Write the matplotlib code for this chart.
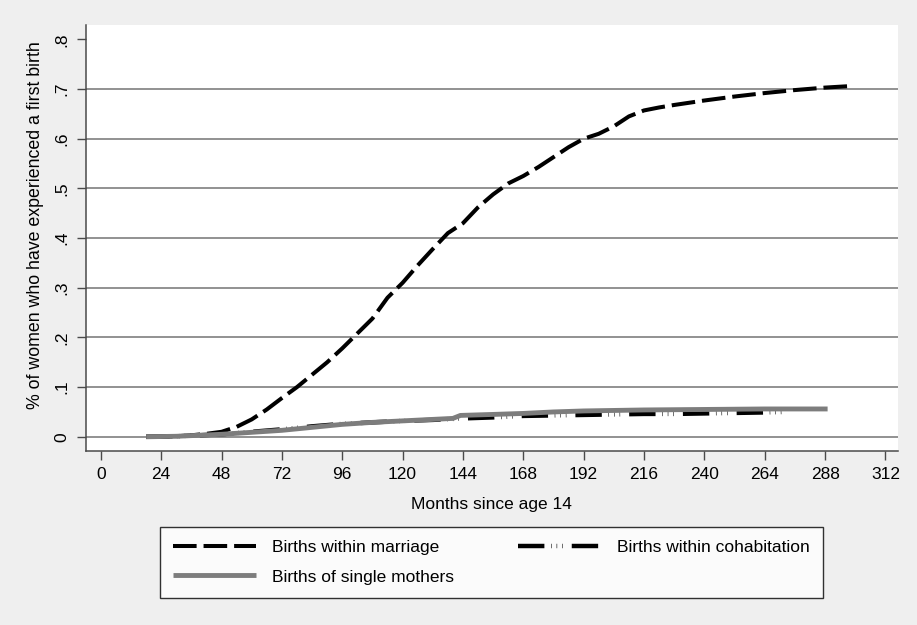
import matplotlib
matplotlib.use("Agg")
import matplotlib.pyplot as plt

#%% data
# months since age 14 and share of women with a first birth
marriage_months = [18, 24, 30, 36, 42, 48, 54, 60, 66, 72, 78, 84, 90, 96, 102, 108,
                   114, 120, 126, 132, 138, 144, 150, 156, 162, 168, 174, 180, 186,
                   192, 198, 204, 210, 216, 222, 228, 240, 252, 264, 276, 288, 298]
marriage_share = [0.0, 0.0, 0.001, 0.003, 0.006, 0.010, 0.020, 0.035, 0.055, 0.078,
                  0.100, 0.125, 0.150, 0.178, 0.208, 0.238, 0.280, 0.310, 0.345,
                  0.378, 0.410, 0.430, 0.462, 0.488, 0.510, 0.525, 0.543, 0.563,
                  0.583, 0.600, 0.610, 0.625, 0.645, 0.657, 0.663, 0.668, 0.677,
                  0.685, 0.692, 0.698, 0.703, 0.706]

cohab_months = [18, 30, 48, 60, 72, 84, 96, 108, 120, 132, 144, 156, 168, 180, 192,
                204, 216, 228, 240, 252, 264, 272]
cohab_share = [0.0, 0.001, 0.005, 0.010, 0.015, 0.021, 0.026, 0.029, 0.032, 0.034,
               0.037, 0.039, 0.042, 0.043, 0.044, 0.045, 0.046, 0.046, 0.047, 0.048,
               0.049, 0.050]

single_months = [18, 30, 48, 60, 72, 84, 96, 108, 120, 132, 140, 143, 156, 168, 180,
                 192, 204, 216, 240, 264, 289]
single_share = [0.0, 0.001, 0.005, 0.009, 0.013, 0.019, 0.025, 0.029, 0.032, 0.035,
                0.037, 0.043, 0.045, 0.047, 0.050, 0.052, 0.053, 0.054, 0.055, 0.056,
                0.056]

x_ticks = list(range(0, 313, 24))
y_ticks = [0, 0.1, 0.2, 0.3, 0.4, 0.5, 0.6, 0.7, 0.8]
y_tick_labels = ['0', '.1', '.2', '.3', '.4', '.5', '.6', '.7', '.8']

#%% plot
plt.rcParams['font.family'] = ['Liberation Sans', 'DejaVu Sans']
plt.rcParams['lines.scale_dashes'] = False

bg = '#efefef'
axis_col = '#4a4a4a'

fig = plt.figure(figsize=(9.17, 6.25), dpi=100, facecolor=bg)
ax = fig.add_axes([0.0935, 0.2789, 0.8858, 0.6811])
ax.set_facecolor('white')

l_mar, = ax.plot(marriage_months, marriage_share, color='black', lw=2.9,
                 dashes=(17, 5), dash_capstyle='butt',
                 label='Births within marriage')
l_coh, = ax.plot(cohab_months, cohab_share, color='black', lw=3.2,
                 dashes=(19, 4.8, 0.4, 3.6, 0.4, 3.6, 0.4, 6.5),
                 dash_capstyle='butt', label='Births within cohabitation')
l_sin, = ax.plot(single_months, single_share, color='#7d7d7d', lw=3.5,
                 solid_capstyle='butt', label='Births of single mothers')

ax.set_xlim(-6, 317)
ax.set_ylim(-0.028, 0.829)
ax.set_xticks(x_ticks)
ax.set_yticks(y_ticks)
ax.set_yticklabels(y_tick_labels, rotation=90, va='center')

ax.grid(axis='y', color='#7f7f7f', lw=1.2)
ax.get_ygridlines()[-1].set_visible(False)
ax.set_axisbelow(True)

for side in ['top', 'right']:
    ax.spines[side].set_visible(False)
for side in ['left', 'bottom']:
    ax.spines[side].set_color(axis_col)
    ax.spines[side].set_linewidth(1.1)
ax.tick_params(axis='both', direction='out', length=6.5, width=1.0,
               color=axis_col, labelsize=12.5, pad=5)

ax.set_xlabel('Months since age 14', fontsize=12.5, labelpad=11)
ax.set_ylabel('% of women who have experienced a first birth', fontsize=12.8,
              labelpad=2)
ax.yaxis.set_label_coords(-0.052, 0.53)

# column-wise fill: marriage / single in column 1, cohabitation in column 2
leg = fig.legend(handles=[l_mar, l_sin, l_coh], loc='upper left', ncol=2,
                 mode='expand',
                 bbox_to_anchor=(160 / 917, 1 - 527 / 625, 663 / 917, 0),
                 borderaxespad=0,
                 fontsize=12.5, frameon=True, fancybox=False, edgecolor='black',
                 handlelength=4.8, handletextpad=0.9, borderpad=0.75,
                 labelspacing=0.82, columnspacing=2.0)
leg.get_frame().set_linewidth(1.0)
leg.get_frame().set_facecolor('white')

fig.savefig('out.png', dpi=100, facecolor=bg)
